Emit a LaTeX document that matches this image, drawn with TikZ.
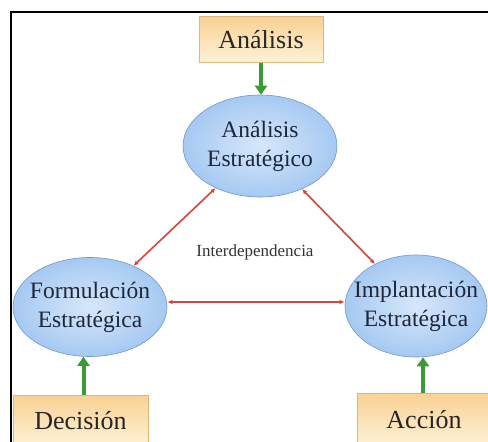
\documentclass[tikz,border=0pt]{standalone}
\usepackage{fontspec}
\setmainfont{Liberation Serif}
\usetikzlibrary{arrows.meta,shapes.geometric}
\definecolor{ink}{HTML}{1E2638}
\definecolor{boxline}{HTML}{E0B77A}
\definecolor{boxtop}{HTML}{F9D193}
\definecolor{boxbot}{HTML}{FEF2D8}
\definecolor{blobin}{HTML}{D6E7FB}
\definecolor{blobout}{HTML}{A6C9F2}
\definecolor{blobline}{HTML}{7095CC}
\definecolor{leaf}{HTML}{3B9A36}
\definecolor{brick}{HTML}{D8433A}
\tikzset{
  stagebox/.style={draw=boxline,top color=boxtop,bottom color=boxbot,line width=0.6pt,
    minimum height=46pt,inner sep=0pt,font=\fontsize{26}{30}\selectfont,text=black!85},
  blob/.style={ellipse,draw=blobline,inner color=blobin,outer color=blobout,line width=0.6pt,
    inner sep=-16pt,align=center,font=\fontsize{23.5}{29}\selectfont,text=ink},
  push/.style={-{Triangle[length=9pt,width=12pt]},line width=4pt,draw=leaf},
  link/.style={{Latex[length=5pt,width=4.5pt]}-{Latex[length=5pt,width=4.5pt]},line width=1.6pt,draw=brick}
}
\begin{document}
\begin{tikzpicture}[x=1pt,y=-1pt]
  \useasboundingbox (0,0) rectangle (488,442);
  \fill[white] (0,0) rectangle (488,442);

  % frame
  \draw[line width=2pt,black] (11,442) -- (11,12) -- (488,12);

  % ellipses
  \node[blob,minimum width=154pt,minimum height=102pt] (ana) at (260,146) {Análisis\\Estratégico};
  \node[blob,minimum width=154pt,minimum height=99pt] (form) at (90,307) {Formulación\\Estratégica};
  \node[blob,minimum width=142pt,minimum height=102pt] (impl) at (416,306) {Implantación\\Estratégica};

  % boxes
  \node[stagebox,minimum width=124pt] (anabox) at (261,39.5) {Análisis};
  \begin{scope}
    \clip (0,0) rectangle (488,442);
    \node[stagebox,minimum width=135pt,minimum height=52pt] (dec) at (80.5,421) {Decisión};
    \node[stagebox,minimum width=134pt,minimum height=54pt] (acc) at (424,420) {Acción};
  \end{scope}

  % connectors
  \draw[push] (anabox.south) -- (anabox.south |- ana.north);
  \draw[push] ([xshift=3pt]dec.north) -- ([xshift=3pt]dec.north |- form.south);
  \draw[push] ([xshift=-1pt]acc.north) -- ([xshift=-1pt]acc.north |- impl.south);

  \draw[link] (ana) -- (form);
  \draw[link] (ana) -- (impl);
  \draw[link] ([yshift=5pt]form.east) -- ([yshift=5pt]form.east -| impl.west);

  \node[font=\fontsize{17}{20}\selectfont,text=black!80] (inter) at (255,252) {Interdependencia};
\end{tikzpicture}
\end{document}
